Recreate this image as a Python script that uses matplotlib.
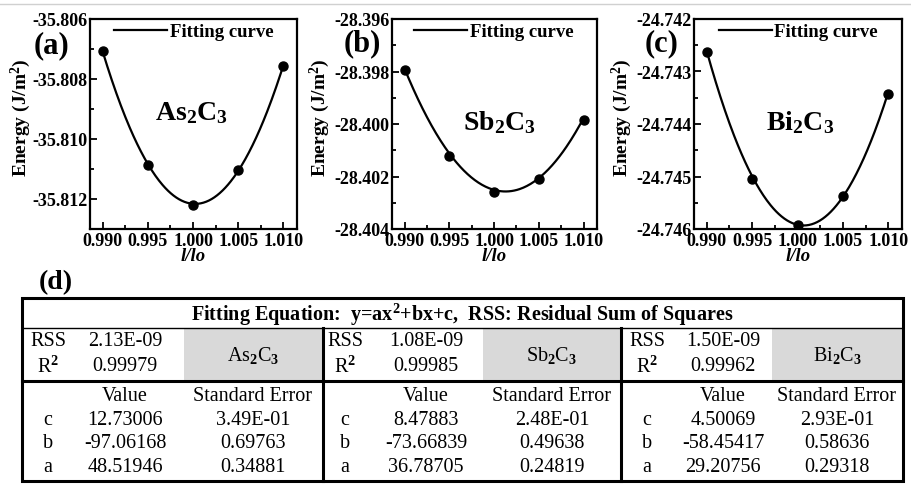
import numpy as np
import matplotlib
matplotlib.use('Agg')
import matplotlib.pyplot as plt
from matplotlib.ticker import AutoMinorLocator, FormatStrFormatter
from matplotlib.patches import Rectangle

plt.rcParams['font.family'] = 'Liberation Serif'
plt.rcParams['font.weight'] = 'bold'
plt.rcParams['axes.labelweight'] = 'bold'
plt.rcParams['mathtext.fontset'] = 'custom'
plt.rcParams['mathtext.rm'] = 'Liberation Serif'
plt.rcParams['mathtext.it'] = 'Liberation Serif:italic'
plt.rcParams['mathtext.bf'] = 'Liberation Serif:bold'

# strain l/lo and energies
strain = [0.990, 0.995, 1.000, 1.005, 1.010]
energy_as = [-35.80708, -35.81088, -35.81219, -35.81104, -35.80757]
energy_sb = [-28.39795, -28.40120, -28.40258, -28.40209, -28.39984]
energy_bi = [-24.74262, -24.74504, -24.74592, -24.74537, -24.74342]

compounds = ['As$_2$C$_3$', 'Sb$_2$C$_3$', 'Bi$_2$C$_3$']
compounds_bold = [r'$\mathbf{As_2C_3}$', r'$\mathbf{Sb_2C_3}$', r'$\mathbf{Bi_2C_3}$']
panel_tags = ['(a)', '(b)', '(c)']
ylims = [(-35.813, -35.806), (-28.404, -28.396), (-24.746, -24.742)]
yticks = [[-35.812, -35.810, -35.808, -35.806],
          [-28.404, -28.402, -28.400, -28.398, -28.396],
          [-24.746, -24.745, -24.744, -24.743, -24.742]]

# fitting table
rss = ['2.13E-09', '1.08E-09', '1.50E-09']
r_squared = ['0.99979', '0.99985', '0.99962']
coef_c = ['12.73006', '8.47883', '4.50069']
coef_b = ['-97.06168', '-73.66839', '-58.45417']
coef_a = ['48.51946', '36.78705', '29.20756']
err_c = ['3.49E-01', '2.48E-01', '2.93E-01']
err_b = ['0.69763', '0.49638', '0.58636']
err_a = ['0.34881', '0.24819', '0.29318']

energies = [energy_as, energy_sb, energy_bi]

W, H = 912, 485
fig = plt.figure(figsize=(W / 100, H / 100), dpi=100)

# faint scan line at the very top
bg = fig.add_axes([0, 0, 1, 1])
bg.set_xlim(0, W)
bg.set_ylim(H, 0)
bg.axis('off')
bg.plot([0, W], [5, 5], color='#d0d0d0', lw=1)

axes_px = [(90, 207), (392, 205), (694, 208)]
ylabel_px = [33, 332, 634]
tag_px = [(52, 46), (362, 44), (662, 44)]
label_pos = [(0.49, 0.555), (0.525, 0.51), (0.51, 0.51)]

for i in range(3):
    left, width = axes_px[i]
    ax = fig.add_axes([left / W, (H - 230) / H, width / W, 210 / H])
    xs = np.linspace(strain[0], strain[-1], 200)
    coeffs = [float(coef_a[i]), float(coef_b[i]), float(coef_c[i])]
    ax.plot(xs, np.polyval(coeffs, xs), color='black', lw=1.6, label='Fitting curve')
    ax.plot(strain, energies[i], 'o', color='black', ms=6.5)
    ax.set_xlim(0.9886, 1.0115)
    ax.set_ylim(*ylims[i])
    ax.set_xticks(strain)
    ax.set_yticks(yticks[i])
    ax.yaxis.set_major_formatter(FormatStrFormatter('%.3f'))
    ax.xaxis.set_major_formatter(FormatStrFormatter('%.3f'))
    ax.xaxis.set_minor_locator(AutoMinorLocator(2))
    ax.yaxis.set_minor_locator(AutoMinorLocator(2))
    ax.tick_params(which='both', direction='in', labelsize=13, width=1.3, pad=2)
    ax.tick_params(which='major', length=5)
    ax.tick_params(which='minor', length=3)
    for s in ax.spines.values():
        s.set_linewidth(1.6)
    ax.set_xlabel('l/lo', fontsize=13.5, style='italic', labelpad=-1)
    ax.set_ylabel(r'Energy (J/m$^\mathbf{2}$)', fontsize=14)
    ax.yaxis.set_label_coords((ylabel_px[i] - left) / width, 0.535)
    ax.text(label_pos[i][0], label_pos[i][1], compounds_bold[i], transform=ax.transAxes,
            fontsize=20, ha='center', va='center')
    ax.legend(loc='upper right', frameon=False, fontsize=13.5, handlelength=2.8,
              handletextpad=0.15, borderaxespad=0.1, bbox_to_anchor=(0.93, 1.025))
    bg.text(tag_px[i][0], tag_px[i][1], panel_tags[i], fontsize=22, ha='center', va='center')

# ---- table (d) ----
bg.text(56, 283, '(d)', fontsize=20, ha='center', va='center')

top, title_bot, band_bot, bottom = 299, 329, 382, 482
groups = [22, 323, 621, 903]
gray_left = [184, 483, 772]
lab_x = [48, 345, 647]
val_x = [125, 426, 723]
err_x = [253, 552, 837]
row_y = {'rss': 342, 'r2': 367, 'value': 397, 'c': 421, 'b': 444, 'a': 468}
fs = 14.5

for g in range(3):
    bg.add_patch(Rectangle((gray_left[g], title_bot), groups[g + 1] - gray_left[g],
                           band_bot - title_bot, facecolor='#d9d9d9', edgecolor='none'))
    bg.text(lab_x[g], row_y['rss'], 'RSS', fontsize=fs, weight='normal', ha='center', va='center')
    bg.text(lab_x[g], row_y['r2'], r'R$^2$', fontsize=fs, weight='normal', ha='center', va='center')
    bg.text(val_x[g], row_y['rss'], rss[g], fontsize=fs, weight='normal', ha='center', va='center')
    bg.text(val_x[g], row_y['r2'], r_squared[g], fontsize=fs, weight='normal', ha='center', va='center')
    bg.text(err_x[g], (title_bot + band_bot) / 2, compounds[g], fontsize=fs, weight='normal',
            ha='center', va='center')
    bg.text(val_x[g], row_y['value'], 'Value', fontsize=fs, weight='normal', ha='center', va='center')
    bg.text(err_x[g], row_y['value'], 'Standard Error', fontsize=fs, weight='normal',
            ha='center', va='center')
    for key, vals, errs in [('c', coef_c, err_c), ('b', coef_b, err_b), ('a', coef_a, err_a)]:
        bg.text(lab_x[g], row_y[key], key, fontsize=fs, weight='normal', ha='center', va='center')
        bg.text(val_x[g], row_y[key], vals[g], fontsize=fs, weight='normal', ha='center', va='center')
        bg.text(err_x[g], row_y[key], errs[g], fontsize=fs, weight='normal', ha='center', va='center')

bg.text((groups[0] + groups[-1]) / 2, (top + title_bot) / 2 + 1,
        r'Fitting Equation:  y=ax$^\mathbf{2}$+bx+c,  RSS: Residual Sum of Squares',
        fontsize=14.5, ha='center', va='center')

bg.add_patch(Rectangle((groups[0], top), groups[-1] - groups[0], bottom - top,
                       facecolor='none', edgecolor='black', lw=2.2))
bg.plot([groups[0], groups[-1]], [title_bot, title_bot], color='black', lw=1.0)
bg.plot([groups[0], groups[-1]], [band_bot, band_bot], color='black', lw=2.2)
for gx in groups[1:3]:
    bg.plot([gx, gx], [title_bot, bottom], color='black', lw=2.2)

fig.savefig('out.png', dpi=100)
